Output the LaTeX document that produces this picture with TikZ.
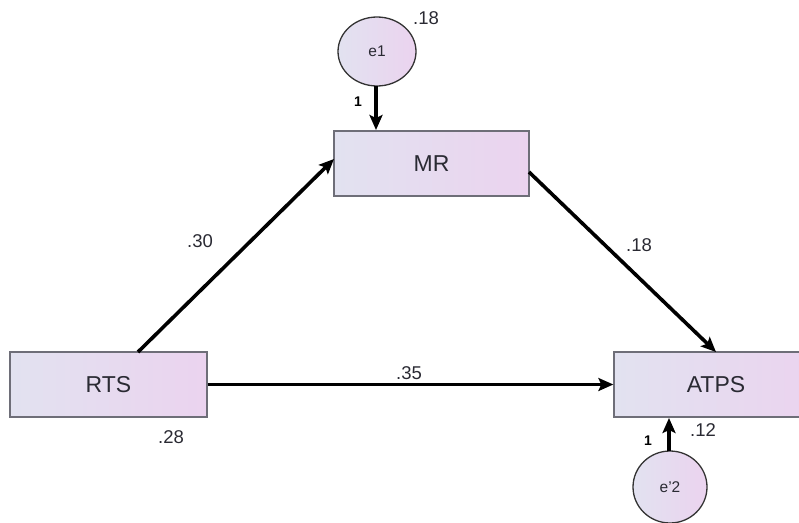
\documentclass[tikz,border=0pt]{standalone}
\usepackage{fontspec}
\setmainfont{Liberation Sans}
\usetikzlibrary{shapes.geometric,arrows.meta}
\definecolor{boxL}{HTML}{E2E2F0}
\definecolor{boxR}{HTML}{EBD3EF}
\definecolor{edge}{HTML}{6E6E78}
\definecolor{txt}{HTML}{2A2A33}
\tikzset{
  varbox/.style={draw=edge, line width=1.3pt, left color=boxL, right color=boxR, inner sep=0pt,
    font=\fontsize{23}{23}\selectfont, text=txt},
  errell/.style={ellipse, draw=black!80, line width=1.3pt, left color=boxL, right color=boxR, inner sep=0pt,
    font=\fontsize{15.5}{15.5}\selectfont, text=txt},
  path/.style={draw=black, line width=3.6pt, -{Stealth[length=15pt,width=13pt,inset=3pt]}},
  coef/.style={font=\fontsize{18.5}{18.5}\selectfont, text=txt},
  one/.style={font=\bfseries\fontsize{14}{14}\selectfont, text=black},
}
\begin{document}
\begin{tikzpicture}[x=1pt,y=-1pt]
\useasboundingbox (0,0) rectangle (799,522);
\node[varbox, minimum width=195pt, minimum height=65pt] (MR) at (431.5,163.5) {MR};
\node[varbox, minimum width=197pt, minimum height=65pt] (RTS) at (108.5,384.5) {RTS};
\node[varbox, minimum width=204pt, minimum height=65pt] (ATPS) at (716,384.5) {ATPS};
\node[errell, minimum width=78pt, minimum height=69pt] (e1) at (377,51.5) {e1};
\node[errell, minimum width=74pt, minimum height=72pt] (e2) at (670,487) {e'2};
\coordinate (e1b) at (376,86);
\coordinate (MRt) at (376,130);
\coordinate (e2t) at (669,451);
\coordinate (ATPSb) at (669,418);
\draw[path] (e1b) -- (MRt);
\draw[path] (e2t) -- (ATPSb);
\coordinate (RTSt) at (138,352);
\coordinate (MRl) at (334,159);
\coordinate (MRr) at (529,172);
\coordinate (ATPSt) at (716,352);
\draw[path] (RTSt) -- (MRl);
\draw[path] (MRr) -- (ATPSt);
\draw[path] (RTS.east) -- (ATPS.west);
\node[coef] (c30) at (200,241) {.30};
\node[coef] (c18) at (639,245) {.18};
\node[coef] (c35) at (409,373) {.35};
\node[coef] (c28) at (171,437) {.28};
\node[coef] (c12) at (703,430) {.12};
\node[coef] (v18) at (426,18) {.18};
\node[one] (o1) at (358,102) {1};
\node[one] (o2) at (648,441) {1};
\end{tikzpicture}
\end{document}
